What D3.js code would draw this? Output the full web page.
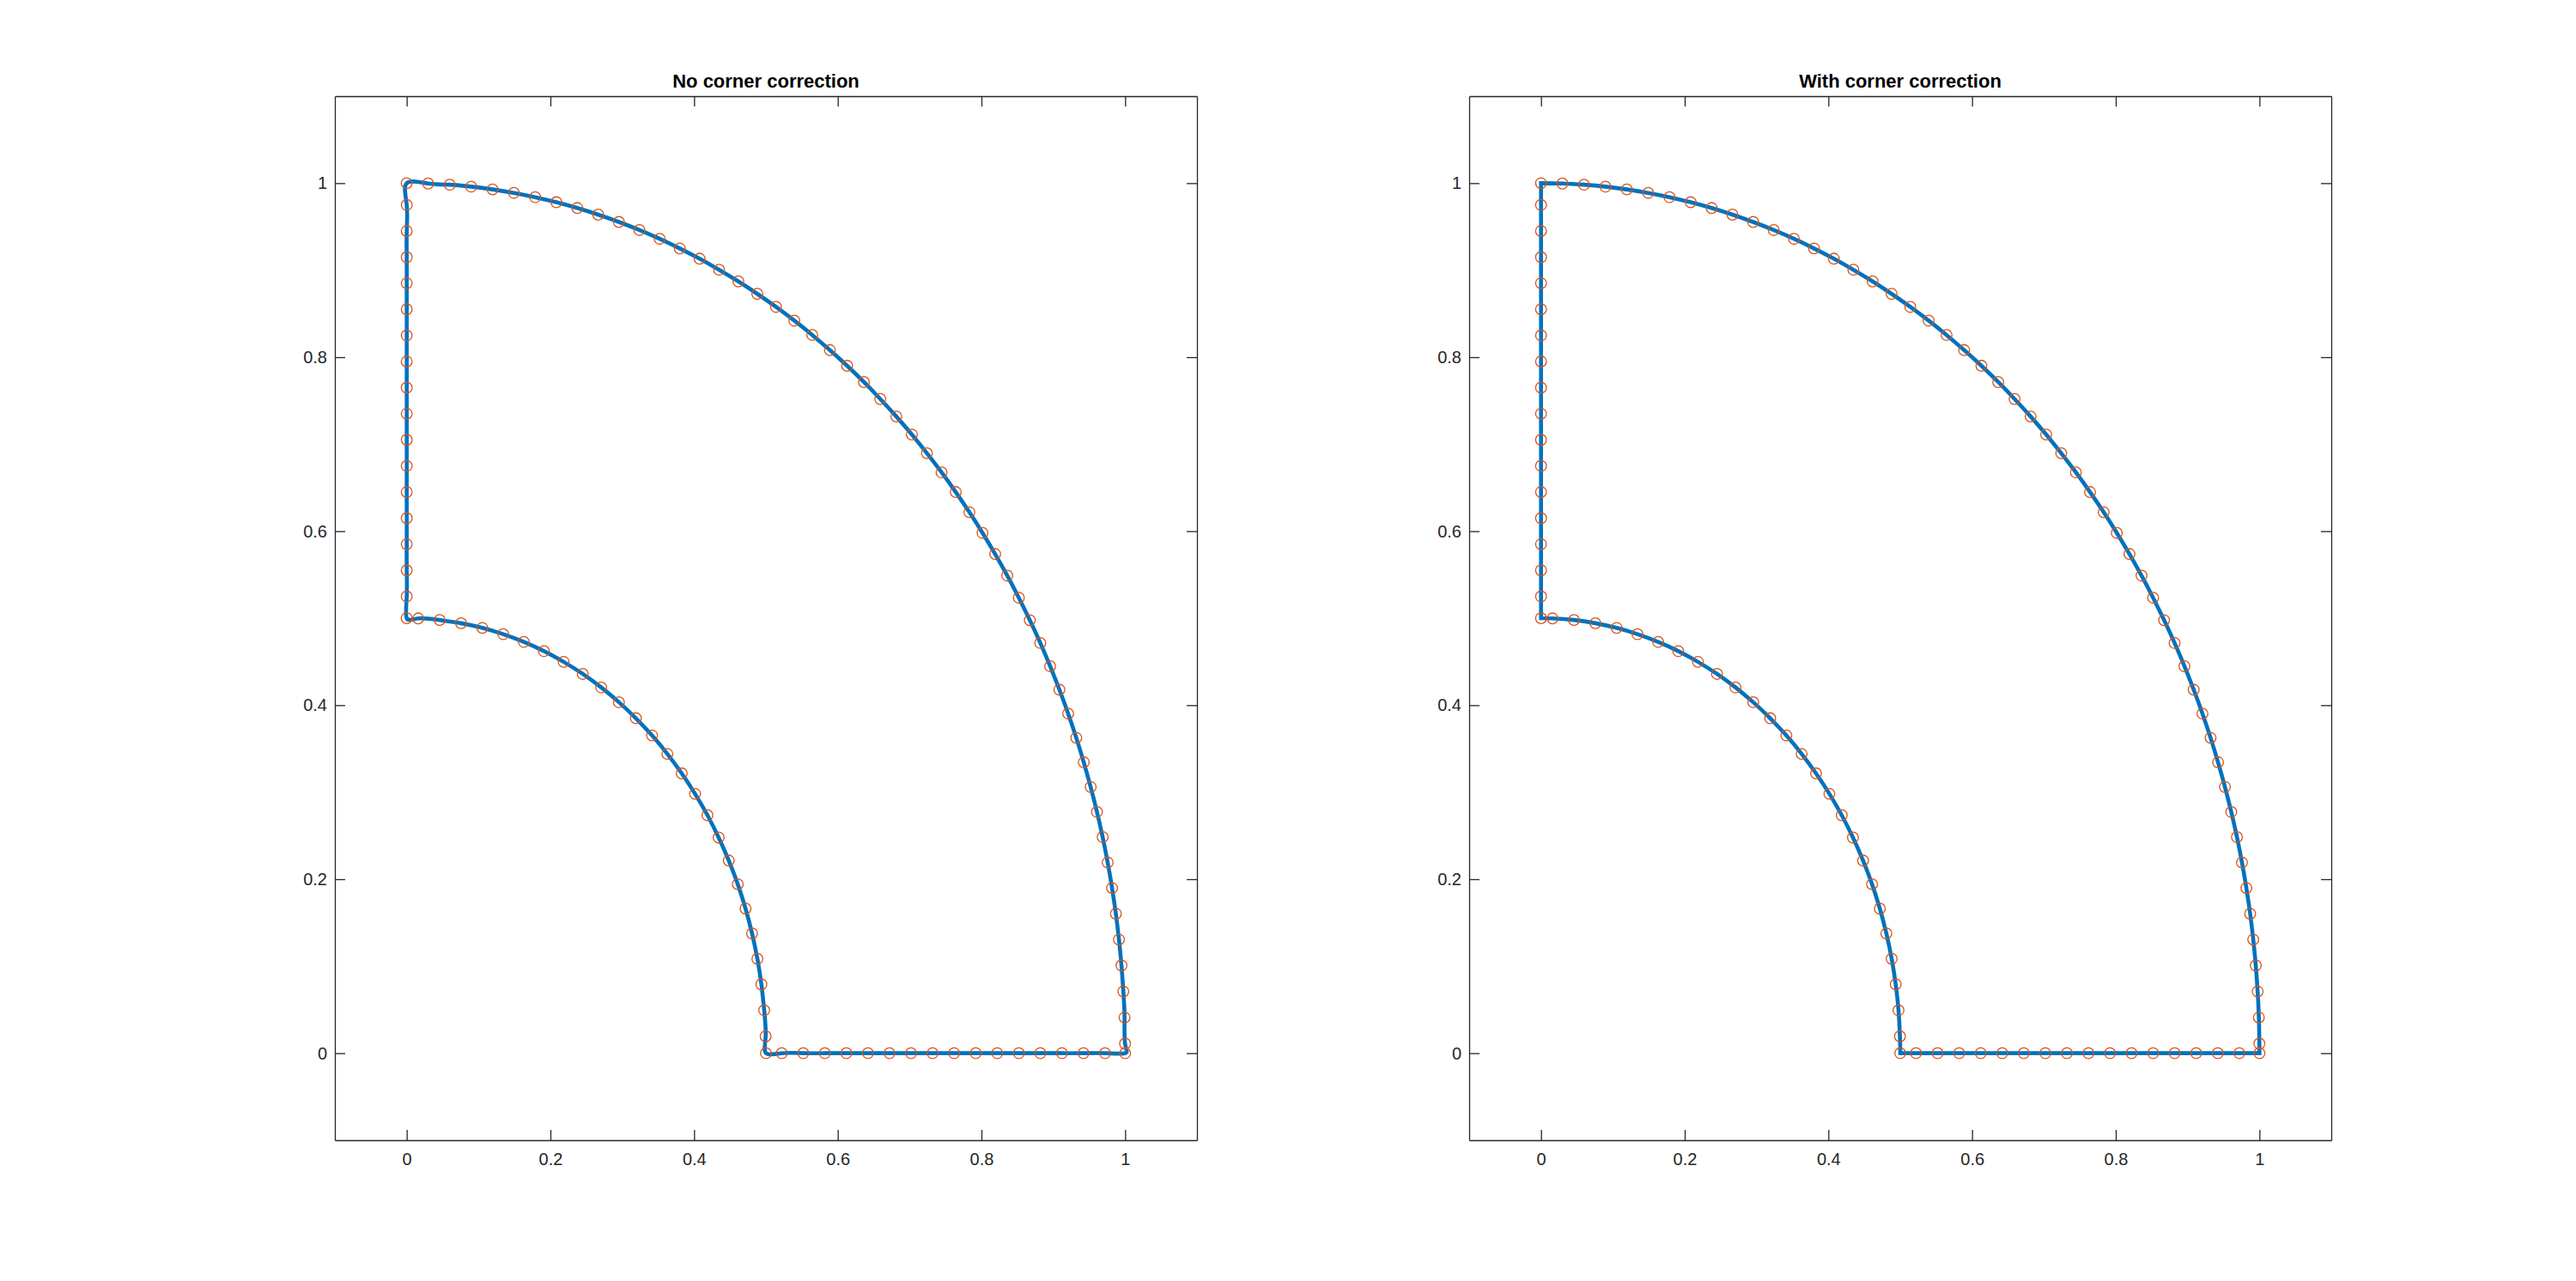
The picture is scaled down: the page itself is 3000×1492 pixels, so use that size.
<!DOCTYPE html>
<html lang="en">
<head>
  <meta charset="utf-8">
  <title>Corner correction</title>
  <script type="text/javascript" src="https://d3js.org/d3.v7.min.js"></script>
</head>
<style>

body {
  margin: 0;
  background: white;
  font-family: "Liberation Sans", Arial, sans-serif;
}

.axis path, .axis line {
  stroke: #262626;
  stroke-width: 1.3px;
}

.axis text {
  fill: #262626;
  font-size: 20px;
  font-family: "Liberation Sans", Arial, sans-serif;
}

</style>
<body>
  <script type="text/javascript">
  var w = 3000;
  var h = 1492;

  var titles = ["No corner correction", "With corner correction"];
  var tickValues = [0, 0.2, 0.4, 0.6, 0.8, 1];
  var tickLabels = ["0", "0.2", "0.4", "0.6", "0.8", "1"];

  // sample points, in boundary order
  var cornerX = [0.5, 1, 0, 0];
  var cornerY = [0, 0, 1, 0.5];
  var bottomX = [0.522, 0.552, 0.582, 0.612, 0.642, 0.672, 0.702, 0.732,
                 0.762, 0.792, 0.822, 0.852, 0.882, 0.912, 0.942, 0.972];
  var outerX = [0.9999, 0.9992, 0.9975, 0.9949, 0.9914, 0.9871, 0.9818, 0.9757, 0.9687, 0.9608,
                0.9520, 0.9424, 0.9320, 0.9207, 0.9085, 0.8956, 0.8819, 0.8673, 0.8520, 0.8359,
                0.8191, 0.8015, 0.7832, 0.7642, 0.7445, 0.7241, 0.7031, 0.6815, 0.6592, 0.6364,
                0.6130, 0.5890, 0.5645, 0.5395, 0.5140, 0.4880, 0.4616, 0.4348, 0.4076, 0.3800,
                0.3521, 0.3239, 0.2953, 0.2665, 0.2375, 0.2083, 0.1788, 0.1492, 0.1195, 0.0897,
                0.0598, 0.0298];
  var outerY = [0.0110, 0.0410, 0.0709, 0.1008, 0.1306, 0.1603, 0.1898, 0.2192, 0.2484, 0.2773,
                0.3060, 0.3344, 0.3625, 0.3903, 0.4178, 0.4448, 0.4715, 0.4977, 0.5235, 0.5489,
                0.5737, 0.5980, 0.6218, 0.6450, 0.6676, 0.6896, 0.7111, 0.7318, 0.7519, 0.7714,
                0.7901, 0.8081, 0.8255, 0.8420, 0.8578, 0.8728, 0.8871, 0.9005, 0.9132, 0.9250,
                0.9360, 0.9461, 0.9554, 0.9638, 0.9714, 0.9781, 0.9839, 0.9888, 0.9928, 0.9960,
                0.9982, 0.9996];
  var leftY = [0.975, 0.945, 0.915, 0.885, 0.855, 0.825, 0.795, 0.765,
               0.735, 0.705, 0.675, 0.645, 0.615, 0.585, 0.555, 0.525];
  var innerX = [0.0160, 0.0459, 0.0757, 0.1052, 0.1343, 0.1630, 0.1910, 0.2184, 0.2450, 0.2707,
                0.2954, 0.3190, 0.3415, 0.3628, 0.3828, 0.4014, 0.4186, 0.4342, 0.4483, 0.4608,
                0.4716, 0.4807, 0.4881, 0.4937, 0.4976, 0.4996];
  var innerY = [0.4997, 0.4979, 0.4942, 0.4888, 0.4816, 0.4727, 0.4621, 0.4498, 0.4359, 0.4204,
                0.4034, 0.3850, 0.3652, 0.3440, 0.3216, 0.2981, 0.2735, 0.2479, 0.2214, 0.1942,
                0.1662, 0.1376, 0.1085, 0.0791, 0.0493, 0.0194];

  //Build the point list: corner, bottom, corner, outer arc, corner, left edge, corner, inner arc
  var pts = [[cornerX[0], cornerY[0]]];
  bottomX.forEach(function(x) { pts.push([x, 0]); });
  pts.push([cornerX[1], cornerY[1]]);
  outerX.forEach(function(x, i) { pts.push([x, outerY[i]]); });
  pts.push([cornerX[2], cornerY[2]]);
  leftY.forEach(function(y) { pts.push([0, y]); });
  pts.push([cornerX[3], cornerY[3]]);
  innerX.forEach(function(x, i) { pts.push([x, innerY[i]]); });

  var iB = 17, iT = 70, iL = 87;   // indices of the corners in pts

  // axes boxes (MATLAB subplot positions)
  var boxes = [{left: 390, top: 112, width: 1004, height: 1216},
               {left: 1711, top: 112, width: 1004, height: 1216}];

  var svg = d3.select("body")
      .append("svg")
      .attr("width", w)
      .attr("height", h);

  boxes.forEach(function(b, k) {
    var x = d3.scaleLinear().domain([-0.1, 1.1]).range([0, b.width]);
    var y = d3.scaleLinear().domain([-0.1, 1.1]).range([b.height, 0]);
    var fmt = function(d, i) { return tickLabels[i]; };

    var g = svg.append("g")
        .attr("transform", "translate(" + b.left + "," + b.top + ")");

    g.append("g").attr("class", "axis")
        .attr("transform", "translate(0," + b.height + ")")
        .call(d3.axisBottom(x).tickValues(tickValues).tickFormat(fmt)
              .tickSizeInner(-12).tickSizeOuter(0).tickPadding(15));
    g.append("g").attr("class", "axis")
        .call(d3.axisTop(x).tickValues(tickValues).tickFormat("")
              .tickSizeInner(-12).tickSizeOuter(0));
    g.append("g").attr("class", "axis")
        .call(d3.axisLeft(y).tickValues(tickValues).tickFormat(fmt)
              .tickSizeInner(-12).tickSizeOuter(0).tickPadding(9));
    g.append("g").attr("class", "axis")
        .attr("transform", "translate(" + b.width + ",0)")
        .call(d3.axisRight(y).tickValues(tickValues).tickFormat("")
              .tickSizeInner(-12).tickSizeOuter(0));

    var line = d3.line()
        .x(function(d) { return x(d[0]); })
        .y(function(d) { return y(d[1]); })
        .curve(d3.curveNatural);

    var d;
    if (k == 0) {
      // one spline through every point, starting mid-way on the bottom edge
      d = line(pts.slice(9).concat(pts.slice(0, 10)));
    } else {
      // a separate spline on each edge, meeting at the corners
      var segs = [pts.slice(0, iB + 1), pts.slice(iB, iT + 1),
                  pts.slice(iT, iL + 1), pts.slice(iL).concat([pts[0]])];
      d = segs.map(function(s, i) {
        var p = line(s);
        return i ? p.replace(/^M[^CLZ]*/, "") : p;
      }).join("") + "Z";
    }

    g.append("path")
        .attr("d", d)
        .style("fill", "none")
        .style("stroke", "#0072BD")
        .style("stroke-width", 4.6)
        .style("stroke-linejoin", "miter");

    g.selectAll("circle")
        .data(pts)
        .enter()
        .append("circle")
        .attr("cx", function(p) { return x(p[0]); })
        .attr("cy", function(p) { return y(p[1]); })
        .attr("r", 6.3)
        .style("fill", "none")
        .style("stroke", "#D95319")
        .style("stroke-width", 1.3);

    g.append("text")
        .attr("x", b.width / 2)
        .attr("y", -10)
        .style("text-anchor", "middle")
        .style("font-weight", "bold")
        .style("font-size", "22px")
        .style("fill", "black")
        .text(titles[k]);
  });

</script>
</body>
</html>
